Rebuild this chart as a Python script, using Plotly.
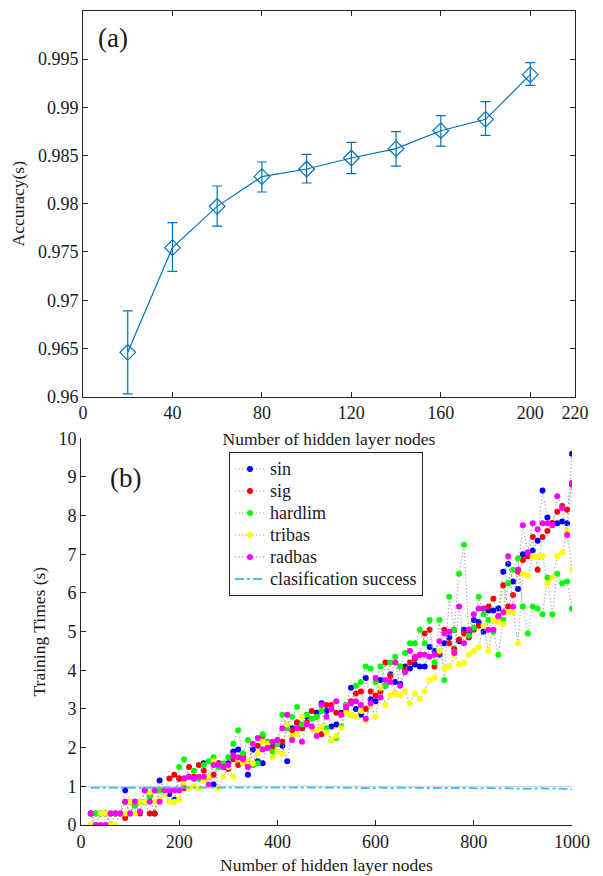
import plotly.graph_objects as go

# ---------------- Panel (a) data ----------------
acc_nodes = [20, 40, 60, 80, 100, 120, 140, 160, 180, 200]
acc_mean = [0.9646, 0.97545, 0.97973, 0.98281, 0.9836, 0.98474, 0.98571, 0.98757, 0.98875, 0.99338]
acc_upper = [0.9689, 0.97804, 0.98184, 0.98433, 0.98512, 0.98637, 0.98747, 0.98913, 0.99058, 0.99462]
acc_lower = [0.9603, 0.97300, 0.97769, 0.98122, 0.98215, 0.98312, 0.98391, 0.98598, 0.98709, 0.99227]

# ---------------- Panel (b) data ----------------
nodes = list(range(20, 1001, 10))

t_sin = [0.3, 0.0, 0.3, 0.3, 0.0, 0.3, 0.3, 0.9, 0.6,
         0.6, 0.6, 0.9, 0.75, 0.3, 1.15, 0.9, 0.8, 0.65, 1.2,
         1.2, 1.25, 1.2, 1.2, 1.6, 1.25, 1.05, 1.6, 1.5, 1.6,
         1.9, 1.95, 1.75, 1.3, 1.95, 1.65, 1.6, 2.15, 2.1, 2.1,
         2.05, 1.65, 2.5, 2.65, 2.5, 2.8, 2.5, 2.9, 3.15, 2.95,
         2.55, 2.6, 2.9, 3.1, 3.55, 3.0, 2.85, 3.8, 3.25, 3.2,
         3.75, 3.6, 3.9, 3.7, 3.65, 4.1, 4.05, 4.15, 4.1, 4.1,
         4.6, 4.5, 4.4, 4.7, 4.85, 5.05, 4.75, 5.05, 4.95, 5.3,
         5.25, 5.0, 5.55, 5.55, 5.6, 6.55, 6.75, 6.3, 6.1, 7.0,
         7.05, 7.1, 7.35, 8.65, 7.95, 7.8, 7.8, 7.85, 7.8, 9.6]

t_sig = [0.3, 0.3, 0.3, 0.3, 0.3, 0.3, 0.3, 0.18, 0.3,
         0.6, 0.3, 0.6, 0.3, 0.3, 0.9, 0.9, 1.2, 1.3, 1.2,
         0.95, 1.5, 1.25, 1.55, 1.4, 1.25, 1.3, 1.6, 1.5, 1.45,
         1.7, 1.55, 1.75, 1.55, 1.55, 2.05, 2.3, 2.0, 2.0, 2.15,
         2.15, 2.5, 2.45, 2.65, 2.5, 2.65, 2.95, 2.8, 2.35, 3.1,
         3.1, 2.9, 2.85, 2.95, 3.2, 3.4, 3.45, 3.0, 3.45, 3.35,
         3.45, 4.2, 3.85, 3.4, 4.1, 4.0, 4.2, 4.3, 4.4, 4.95,
         5.05, 4.1, 4.45, 5.05, 4.7, 4.55, 4.8, 4.95, 4.85, 5.05,
         5.15, 5.6, 5.65, 5.85, 5.4, 6.2, 5.65, 5.95, 6.55, 6.85,
         6.95, 7.45, 6.6, 7.45, 7.6, 7.8, 8.1, 8.25, 8.15, 8.8]

t_hardlim = [0.0, 0.3, 0.3, 0.3, 0.3, 0.3, 0.3, 0.6, 0.3,
             0.5, 0.6, 0.6, 0.75, 0.9, 0.9, 0.8, 0.9, 0.6, 1.5,
             1.7, 1.25, 1.4, 1.2, 1.55, 1.65, 1.75, 1.5, 1.6, 1.75,
             2.1, 2.45, 1.85, 2.2, 1.55, 1.6, 2.35, 2.15, 1.9, 2.1,
             2.85, 2.5, 2.8, 3.05, 2.6, 2.85, 2.75, 2.8, 2.95, 2.5,
             2.2, 2.25, 2.55, 3.1, 2.85, 3.6, 3.7, 4.1, 4.05, 3.7,
             4.1, 3.6, 4.2, 4.35, 4.1, 4.45, 4.7, 4.7, 5.05, 4.7,
             5.3, 4.2, 5.3, 3.75, 5.9, 5.05, 6.5, 7.25, 4.9, 5.1,
             5.9, 5.45, 5.3, 5.0, 4.4, 5.3, 6.25, 6.6, 6.9, 5.65,
             4.95, 5.65, 5.6, 5.45, 6.4, 5.45, 6.5, 6.25, 6.3, 5.6]

t_tribas = [0.0, 0.0, 0.3, 0.3, 0.0, 0.0, 0.3, 0.3, 0.6,
            0.3, 0.6, 0.6, 0.85, 0.6, 0.65, 0.8, 0.6, 0.6, 0.65,
            1.1, 0.95, 1.0, 0.95, 1.15, 1.25, 1.65, 0.95, 1.25, 1.5,
            1.25, 1.7, 1.6, 1.65, 1.6, 1.85, 2.15, 2.1, 1.75, 1.9,
            1.85, 2.6, 2.3, 2.35, 2.8, 2.6, 2.5, 2.45, 2.55, 2.4,
            2.2, 2.3, 2.5, 2.9, 2.85, 2.8, 2.95, 2.7, 3.1, 2.8,
            3.55, 3.1, 3.35, 3.4, 3.35, 3.45, 3.15, 3.4, 3.25, 3.45,
            3.75, 3.8, 4.5, 4.05, 4.1, 4.4, 4.15, 4.2, 4.4, 4.5,
            4.6, 5.15, 4.5, 5.3, 5.25, 5.2, 5.5, 5.5, 4.7, 6.5,
            6.45, 6.95, 6.95, 6.95, 6.25, 6.4, 6.95, 7.05, 7.6, 6.6]

t_radbas = [0.3, 0.0, 0.0, 0.0, 0.3, 0.3, 0.3, 0.6, 0.3,
            0.6, 0.35, 0.9, 0.6, 0.9, 0.6, 0.9, 0.9, 0.9, 0.9,
            1.2, 1.25, 1.2, 1.25, 1.25, 1.05, 1.55, 1.55, 1.5, 1.55,
            1.8, 1.75, 1.7, 1.5, 2.1, 2.25, 1.95, 2.0, 2.15, 2.2,
            2.5, 2.85, 2.2, 2.5, 2.15, 2.6, 2.55, 2.3, 3.1, 2.8,
            3.0, 3.2, 2.85, 3.05, 3.15, 3.2, 3.1, 2.75, 3.15, 3.8,
            3.3, 3.75, 3.7, 4.2, 3.6, 3.95, 4.5, 4.35, 4.4, 4.4,
            4.35, 4.4, 4.75, 4.95, 5.0, 4.45, 5.65, 4.7, 5.05, 5.45,
            5.6, 5.6, 5.05, 5.05, 5.4, 5.5, 6.95, 5.65, 6.6, 7.75,
            7.05, 7.8, 7.65, 7.8, 7.8, 7.75, 8.5, 8.2, 7.5, 8.85]

success = [0.965, 0.965, 0.975, 0.98, 0.98, 0.975, 0.97, 0.97, 0.975,
           0.98, 0.975, 0.97, 0.975, 0.98, 0.98, 0.975, 0.97, 0.975, 0.98,
           0.98, 0.98, 0.975, 0.97, 0.975, 0.98, 0.98, 0.975, 0.98, 0.975,
           0.975, 0.97, 0.975, 0.98, 0.975, 0.97, 0.975, 0.97, 0.965, 0.97,
           0.975, 0.97, 0.965, 0.97, 0.975, 0.97, 0.965, 0.97, 0.965, 0.97,
           0.965, 0.97, 0.96, 0.965, 0.97, 0.965, 0.96, 0.955, 0.965, 0.96,
           0.97, 0.96, 0.955, 0.96, 0.965, 0.955, 0.96, 0.965, 0.96, 0.955,
           0.96, 0.955, 0.96, 0.965, 0.96, 0.955, 0.95, 0.96, 0.965, 0.955,
           0.94, 0.955, 0.95, 0.96, 0.95, 0.955, 0.95, 0.945, 0.93, 0.94,
           0.935, 0.945, 0.95, 0.955, 0.94, 0.95, 0.945, 0.94, 0.935, 0.92]

ref_x = [0, 1000]
ref_y = [1.0, 1.0]

series = [("sin", t_sin, "#0000FF"),
          ("sig", t_sig, "#FF0000"),
          ("hardlim", t_hardlim, "#00FF00"),
          ("tribas", t_tribas, "#FFFF00"),
          ("radbas", t_radbas, "#FF00FF")]

FONT = "Liberation Serif, 'Times New Roman', serif"
TXT = "#1a1a1a"
AX = "#262626"

# the page body has an 8px margin: the figure is drawn from (8, 8) in the window
OX, OY = 8, 8
W, H = 603 - OX, 876 - OY


def px(x):
    return (x - OX) / W


def py(y):
    return 1 - (y - OY) / H


def leg(name):
    return '<span style="font-size:18px">%s</span>' % name


fig = go.Figure()

# Panel (a)
fig.add_trace(go.Scatter(
    x=acc_nodes, y=acc_mean, mode="lines+markers",
    line=dict(color="#0072BD", width=1.2),
    marker=dict(symbol="diamond-open", size=12, color="#0072BD", line=dict(width=1.2)),
    error_y=dict(type="data", symmetric=False,
                 array=[u - m for u, m in zip(acc_upper, acc_mean)],
                 arrayminus=[m - l for m, l in zip(acc_mean, acc_lower)],
                 color="#0072BD", thickness=1.2, width=5),
    showlegend=False, xaxis="x", yaxis="y"))

# Panel (b)
fig.add_trace(go.Scatter(x=ref_x, y=ref_y, mode="lines",
                         line=dict(color="#d0d0d0", width=1),
                         showlegend=False, hoverinfo="skip", xaxis="x2", yaxis="y2"))
for name, vals, col in series:
    fig.add_trace(go.Scatter(
        x=nodes, y=vals, mode="lines+markers", name=leg(name),
        line=dict(color="#9c9c9c", width=1.1, dash="1.2px,2.3px"),
        marker=dict(color=col, size=6, line=dict(width=0)),
        xaxis="x2", yaxis="y2"))
fig.add_trace(go.Scatter(
    x=nodes, y=success, mode="lines", name=leg("clasification success"),
    line=dict(color="#4DBEEE", width=2, dash="dashdot"),
    xaxis="x2", yaxis="y2"))

tickfont = dict(family=FONT, size=18, color=TXT)
titlefont = dict(family=FONT, size=17.5, color=TXT)

common = dict(ticks="inside", ticklen=5, tickcolor=AX, showline=True, linecolor=AX,
              linewidth=1, showgrid=False, zeroline=False, tickfont=tickfont,
              automargin=False)

fig.update_layout(
    template="none",
    width=W, height=H,
    margin=dict(l=0, r=0, t=0, b=0, pad=0),
    paper_bgcolor="white", plot_bgcolor="white",
    font=dict(family=FONT, color=TXT),
    xaxis=dict(domain=[px(83), px(575)], anchor="y", range=[0, 220],
               tickvals=[0, 40, 80, 120, 160, 200, 220], mirror="ticks",
               title=dict(text="Number of hidden layer nodes", font=titlefont, standoff=10),
               **common),
    yaxis=dict(domain=[py(396.7), py(10.8)], anchor="x", range=[0.96, 1.0],
               tickvals=[0.96, 0.965, 0.97, 0.975, 0.98, 0.985, 0.99, 0.995, 1.0],
               ticktext=["0.96", "0.965", "0.97", "0.975", "0.98", "0.985", "0.99", "0.995", "1"],
               mirror="ticks",
               title=dict(text="Accuracy(s)", font=titlefont, standoff=8),
               **common),
    xaxis2=dict(domain=[px(81), px(572)], anchor="y2", range=[0, 1000],
                tickvals=[0, 200, 400, 600, 800, 1000],
                title=dict(text="Number of hidden layer nodes", font=titlefont, standoff=8),
                **common),
    yaxis2=dict(domain=[py(825), py(438.3)], anchor="x2", range=[0, 10],
                tickvals=list(range(0, 11)),
                title=dict(text="Training Times (s)", font=titlefont, standoff=8),
                **common),
    legend=dict(x=px(229), y=py(452), xanchor="left", yanchor="top",
                bgcolor="white", bordercolor=AX, borderwidth=1,
                font=dict(family=FONT, size=14.6, color=TXT),
                itemwidth=30, tracegroupgap=0),
    annotations=[
        dict(text="(a)", x=px(113), y=py(38), xref="paper", yref="paper",
             xanchor="center", yanchor="middle",
             showarrow=False, font=dict(family=FONT, size=27, color=TXT)),
        dict(text="(b)", x=px(125), y=py(478), xref="paper", yref="paper",
             xanchor="center", yanchor="middle",
             showarrow=False, font=dict(family=FONT, size=27, color=TXT)),
    ],
)

fig.write_html("out.html")
